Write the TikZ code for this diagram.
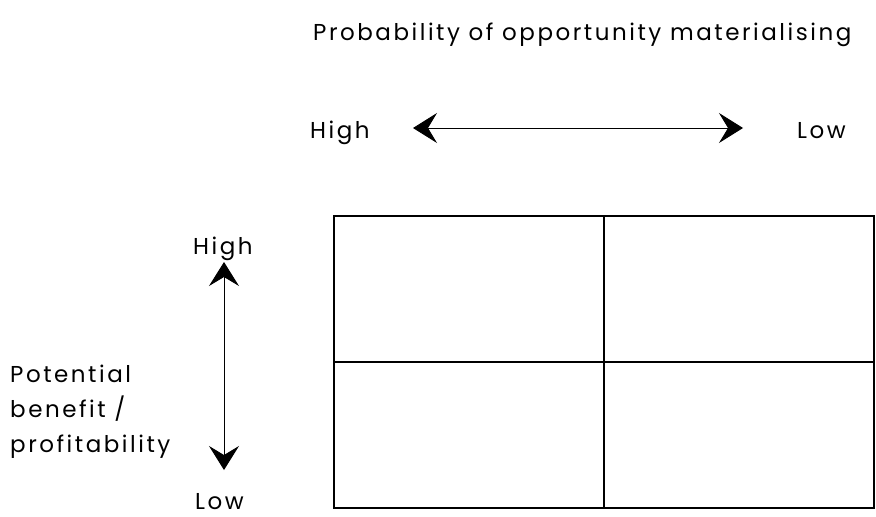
\documentclass[tikz,border=0pt]{standalone}
\usepackage{fontspec}
\setmainfont{Poppins}[LetterSpace=11]
\usepackage{tikz}
\usetikzlibrary{arrows.meta,positioning}

\begin{document}
\begin{tikzpicture}[
    x=1pt, y=-1pt,
    lbl/.style={inner sep=0pt, anchor=base west, font=\fontsize{23}{35}\selectfont},
    cell/.style={rectangle, draw, line width=1.4pt, minimum width=270pt,
                 minimum height=146pt, inner sep=0pt},
    arrow/.style={{Stealth[length=24pt,width=30pt,inset=9pt]}-{Stealth[length=24pt,width=30pt,inset=9pt]}, line width=0.9pt}
]
\useasboundingbox (0,0) rectangle (876,517);

% labels
\node[lbl] (title) at (313,40) {Probability of opportunity materialising};
\node[lbl] (hiX) at (310,138) {High};
\node[lbl] (loX) at (797,138) {Low};
\node[lbl] (hiY) at (193,254) {High};
\node[lbl] (loY) at (195,509) {Low};
\node[lbl, align=left, anchor=north west] (axisY) at (10,365) {Potential\\benefit /\\profitability};

% grid of four cells
\node[cell] (c11) at (469,289) {};
\node[cell] (c12) at (739,289) {};
\node[cell] (c21) at (469,435) {};
\node[cell] (c22) at (739,435) {};

% axis arrows
\coordinate (xl) at (413,128);
\coordinate (xr) at (743,128);
\coordinate (yt) at (224,262);
\coordinate (yb) at (224,470);
\draw[arrow] (xl) -- (xr);
\draw[arrow] (yt) -- (yb);
\end{tikzpicture}
\end{document}
